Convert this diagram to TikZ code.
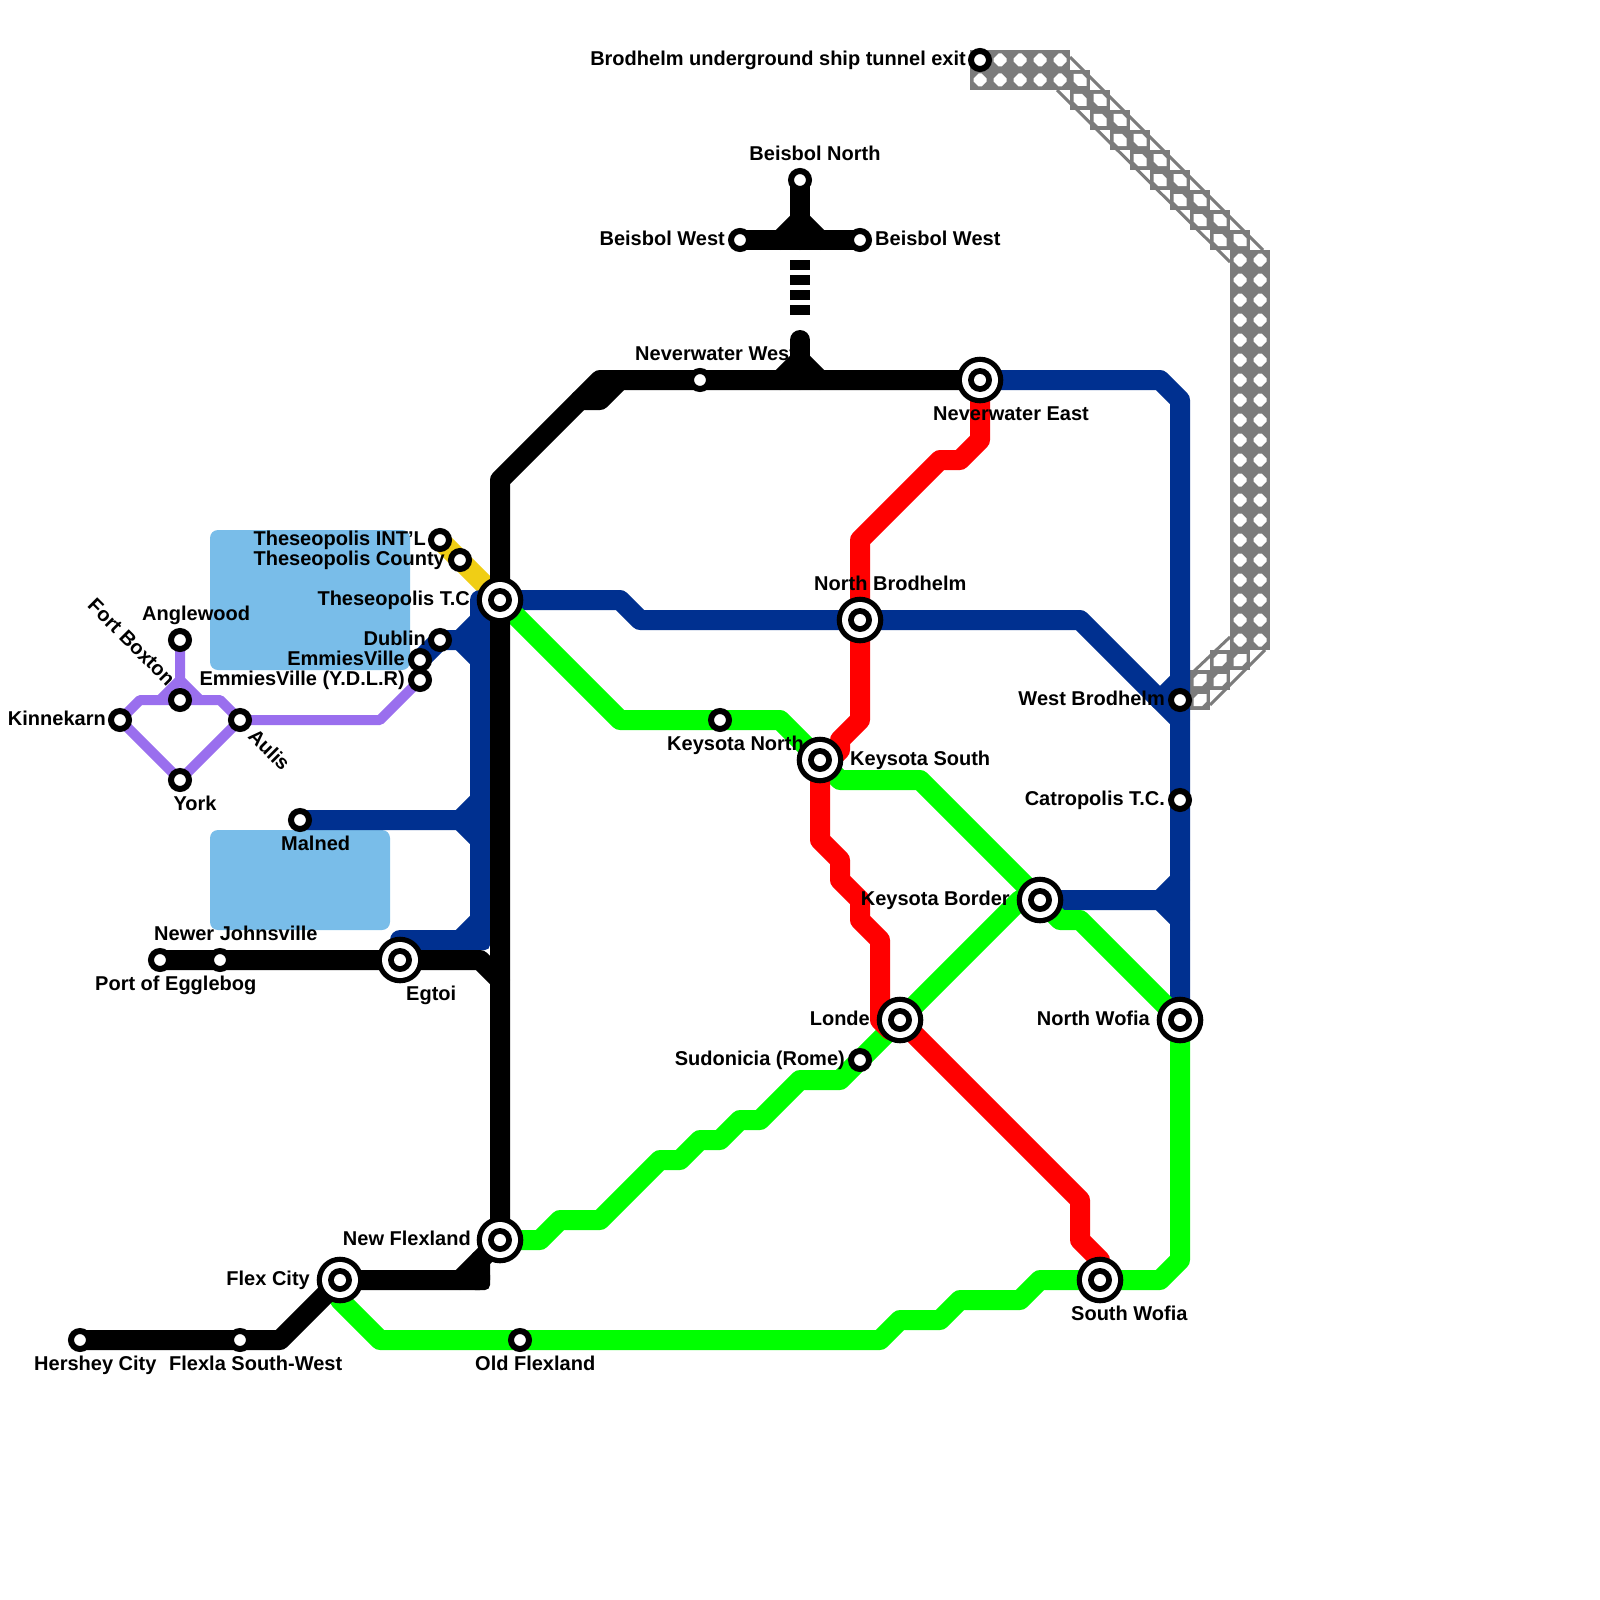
\documentclass[tikz,border=0pt]{standalone}
\usepackage{fontspec}
\setmainfont{Liberation Sans}
\usetikzlibrary{backgrounds}
\definecolor{mblue}{HTML}{003090}
\definecolor{mgreen}{HTML}{00FF00}
\definecolor{mred}{HTML}{FF0000}
\definecolor{myellow}{HTML}{F0CE15}
\definecolor{mpurple}{HTML}{9A6FEE}
\definecolor{mlake}{HTML}{79BDE9}
\definecolor{mgray}{HTML}{7C7C7C}
\tikzset{
  stn/.style={circle,draw=black,fill=white,line width=6pt,minimum size=18pt,inner sep=0pt},
  hub/.style={circle,fill=black,minimum size=46.6pt,inner sep=0pt,path picture={
     \fill[white] (path picture bounding box.center) circle (18pt);
     \fill[black] (path picture bounding box.center) circle (12pt);
     \fill[white] (path picture bounding box.center) circle (6pt);}},
  lbl/.style={inner sep=0pt,text height=14.4pt,text depth=0pt,font=\fontsize{20}{24}\selectfont\bfseries},
  track/.style={line width=20pt,line cap=round,line join=round},
  lake/.style={fill=mlake,rounded corners=8pt},
  tunnelrim/.style={draw=mgray,line width=3pt},
  octhole/.pic={\fill[white] (-6.5,-1.5)--(-1.5,-6.5)--(1.5,-6.5)--(6.5,-1.5)--(6.5,1.5)--(1.5,6.5)--(-1.5,6.5)--(-6.5,1.5)--cycle;},
  downhole/.pic={\fill[white] (-6.5,-6)--(2,-6)--(6.5,-1.5)--(6.5,6)--(-2,6)--(-6.5,1.5)--cycle;},
  uphole/.pic={\fill[white] (-2,-6)--(6.5,-6)--(6.5,1.5)--(2,6)--(-6.5,6)--(-6.5,-1.5)--cycle;},
}
\begin{document}
\begin{tikzpicture}[x=1pt,y=-1pt]
\useasboundingbox (0,0) rectangle (1600,1600);
% stations
\node[stn] (hershey) at (80,1340) {};
\node[stn] (flexsw) at (240,1340) {};
\node[hub] (flexcity) at (340,1280) {};
\node[hub] (newflex) at (500,1240) {};
\node[stn] (oldflex) at (520,1340) {};
\node[stn] (port) at (160,960) {};
\node[stn] (newerj) at (220,960) {};
\node[hub] (egtoi) at (400,960) {};
\node[stn] (malned) at (300,820) {};
\node[hub] (thes) at (500,600) {};
\node[stn] (intl) at (440,540) {};
\node[stn] (county) at (460,560) {};
\node[stn] (dublin) at (440,640) {};
\node[stn] (emmies) at (420,660) {};
\node[stn] (ydlr) at (420,680) {};
\node[stn] (aulis) at (240,720) {};
\node[stn] (york) at (180,780) {};
\node[stn] (kinne) at (120,720) {};
\node[stn] (fort) at (180,700) {};
\node[stn] (angle) at (180,640) {};
\node[stn] (nwest) at (700,380) {};
\node[hub] (neast) at (980,380) {};
\node[stn] (bnorth) at (800,180) {};
\node[stn] (bwl) at (740,240) {};
\node[stn] (bwr) at (860,240) {};
\node[hub] (nbrod) at (860,620) {};
\node[stn] (knorth) at (720,720) {};
\node[hub] (ksouth) at (820,760) {};
\node[hub] (kborder) at (1040,900) {};
\node[hub] (londe) at (900,1020) {};
\node[stn] (sudon) at (860,1060) {};
\node[hub] (nwofia) at (1180,1020) {};
\node[hub] (swofia) at (1100,1280) {};
\node[stn] (wbrod) at (1180,700) {};
\node[stn] (catro) at (1180,800) {};
\node[stn] (tunnel) at (980,60) {};
\coordinate (tunnelend) at (800,340);
\begin{scope}[on background layer]
% lakes
\fill[lake] (210,530) rectangle (410,670);
\fill[lake] (210,830) rectangle (390,930);
% ship tunnel
\draw[tunnelrim] (1070,57) -- (1263,250);
\draw[tunnelrim] (1057,90) -- (1230,262);
\draw[tunnelrim] (1230,637) -- (1192,673);
\draw[tunnelrim] (1265,650) -- (1210,705);
\fill[mgray] (970,50) rectangle (1070,90);
\fill[mgray] (1070,70) rectangle (1090,90);
\foreach \r in {100,120,...,240} {
  \fill[mgray] ({\r+970},{\r-10}) rectangle ({\r+1010},{\r+10});
  \pic at ({\r+980},\r) {downhole};
  \pic at ({\r+1000},\r) {downhole};
}
\pic at (1080,80) {downhole};
\fill[mgray] (1230,250) rectangle (1270,650);
\foreach \r in {260,280,...,640} {
  \pic at (1240,\r) {octhole};
  \pic at (1260,\r) {octhole};
}
\foreach \x in {1000,1020,1040,1060} { \pic at (\x,60) {octhole}; }
\foreach \x in {980,1000,1020,1040,1060} { \pic at (\x,80) {octhole}; }
\fill[mgray] (1210,650) rectangle (1250,670);
\fill[mgray] (1190,670) rectangle (1230,690);
\fill[mgray] (1190,690) rectangle (1210,710);
\pic at (1220,660) {uphole};
\pic at (1240,660) {uphole};
\pic at (1200,680) {uphole};
\pic at (1220,680) {uphole};
\pic at (1200,700) {uphole};
% purple
\draw[track,mpurple,line width=10pt] (kinne.center) -- (140,700) -- (220,700) -- (aulis.center) -- (york.center) -- (kinne.center);
\draw[track,mpurple,line width=10pt] (angle.center) -- (180,680) -- (200,700);
\draw[track,mpurple,line width=10pt] (180,680) -- (160,700);
\draw[track,mpurple,line width=10pt] (aulis.center) -- (380,720) -- (ydlr.center);
% yellow
\draw[track,myellow] (intl.center) -- (thes.center);
% blue
\draw[track,mblue] (neast.center) -- (1160,380) -- (1180,400) -- (nwofia.center);
\draw[track,mblue] (thes.center) -- (620,600) -- (640,620) -- (nbrod.center) -- (1080,620) -- (1180,720);
\draw[track,mblue] (1160,700) -- (1180,680);
\draw[track,mblue] (kborder.center) -- (1160,900) -- (1180,880);
\draw[track,mblue] (1160,900) -- (1180,920);
\draw[track,mblue] (thes.center) -- (480,600) -- (480,940) -- (400,940) -- (egtoi.center);
\fill[mblue,rounded corners=5pt] (470,930) rectangle (490,950);
\draw[track,mblue] (emmies.center) -- (dublin.center) -- (460,640) -- (480,620);
\draw[track,mblue] (460,640) -- (480,660);
\draw[track,mblue] (malned.center) -- (460,820) -- (480,800);
\draw[track,mblue] (460,820) -- (480,840);
\draw[track,mblue] (460,940) -- (480,920);
% green
\draw[track,mgreen] (thes.center) -- (620,720) -- (knorth.center) -- (780,720) -- (ksouth.center) -- (840,780) -- (920,780) -- (kborder.center) -- (1060,920) -- (1080,920) -- (nwofia.center) -- (1180,1260) -- (1160,1280) -- (swofia.center) -- (1040,1280) -- (1020,1300) -- (960,1300) -- (940,1320) -- (900,1320) -- (880,1340) -- (oldflex.center) -- (380,1340) -- (340,1300) -- (flexcity.center);
\draw[track,mgreen] (kborder.center) -- (1020,900) -- (londe.center) -- (sudon.center) -- (840,1080) -- (800,1080) -- (760,1120) -- (740,1120) -- (720,1140) -- (700,1140) -- (680,1160) -- (660,1160) -- (600,1220) -- (560,1220) -- (540,1240) -- (newflex.center);
% red
\draw[track,mred] (neast.center) -- (980,440) -- (960,460) -- (940,460) -- (860,540) -- (860,720) -- (840,740) -- (840,750) -- (820,770) -- (820,840) -- (840,860) -- (840,880) -- (860,900) -- (860,920) -- (880,940) -- (880,1020) -- (890,1030);
\draw[track,mred] (londe.center) -- (1080,1200) -- (1080,1240) -- (1100,1260) -- (swofia.center);
\draw[track,mred] (ksouth.center) -- (820,770);
% black
\draw[track,black] (hershey.center) -- (280,1340) -- (flexcity.center) -- (480,1280) -- (480,1260);
\fill[black,rounded corners=5pt] (470,1270) rectangle (490,1290);
\draw[track,black] (460,1280) -- (newflex.center);
\draw[track,black] (newflex.center) -- (500,480) -- (600,380) -- (neast.center);
\draw[track,black] (580,400) -- (600,400) -- (620,380);
\draw[track,black] (port.center) -- (480,960) -- (500,980);
\draw[track,black] (tunnelend) -- (800,380);
\draw[track,black] (780,380) -- (800,360) -- (820,380);
\draw[track,black] (bnorth.center) -- (800,240);
\draw[track,black] (bwl.center) -- (bwr.center);
\draw[track,black] (780,240) -- (800,220) -- (820,240);
\draw[black,line width=20pt,dash pattern=on 10pt off 5pt] (800,260) -- (800,315);
\end{scope}
% labels
\node[lbl,anchor=east] (l1) at (966,58) {Brodhelm underground ship tunnel exit};
\node[lbl,anchor=east] (l2) at (725,238) {Beisbol West};
\node[lbl,anchor=west] (l3) at (875,238) {Beisbol West};
\node[lbl] (l4) at (815,153) {Beisbol North};
\node[lbl,anchor=west] (l5) at (635,353) {Neverwater West};
\node[lbl,anchor=west] (l6) at (933,413) {Neverwater East};
\node[lbl,anchor=east] (l7) at (426,538) {Theseopolis INT'L};
\node[lbl,anchor=east] (l8) at (445,558) {Theseopolis County};
\node[lbl,anchor=east] (l9) at (470,598) {Theseopolis T.C};
\node[lbl,anchor=west] (l10) at (814,583) {North Brodhelm};
\node[lbl,anchor=west] (l11) at (142,613) {Anglewood};
\node[lbl,anchor=east] (l12) at (426,638) {Dublin};
\node[lbl,anchor=east] (l13) at (405,658) {EmmiesVille};
\node[lbl,anchor=east] (l14) at (405,678) {EmmiesVille (Y.D.L.R)};
\node[lbl,anchor=east] (l15) at (106,718) {Kinnekarn};
\node[lbl,anchor=east,rotate=-45] (l16) at (172,682) {Fort Boxton};
\node[lbl,anchor=west,rotate=-45] (l17) at (252,732) {Aulis};
\node[lbl] (l18) at (195,803) {York};
\node[lbl,anchor=west] (l19) at (667,743) {Keysota North};
\node[lbl,anchor=west] (l20) at (850,758) {Keysota South};
\node[lbl,anchor=west] (l21) at (281,843) {Malned};
\node[lbl,anchor=east] (l22) at (1165,698) {West Brodhelm};
\node[lbl,anchor=east] (l23) at (1165,798) {Catropolis T.C.};
\node[lbl,anchor=east] (l24) at (1010,898) {Keysota Border};
\node[lbl,anchor=west] (l25) at (154,933) {Newer Johnsville};
\node[lbl,anchor=west] (l26) at (95,983) {Port of Egglebog};
\node[lbl,anchor=west] (l27) at (406,993) {Egtoi};
\node[lbl,anchor=east] (l28) at (870,1018) {Londe};
\node[lbl,anchor=east] (l29) at (1150,1018) {North Wofia};
\node[lbl,anchor=east] (l30) at (845,1058) {Sudonicia (Rome)};
\node[lbl,anchor=east] (l31) at (471,1238) {New Flexland};
\node[lbl,anchor=east] (l32) at (310,1278) {Flex City};
\node[lbl,anchor=west] (l33) at (34,1363) {Hershey City};
\node[lbl,anchor=west] (l34) at (169,1363) {Flexla South-West};
\node[lbl,anchor=west] (l35) at (475,1363) {Old Flexland};
\node[lbl,anchor=west] (l36) at (1071,1313) {South Wofia};
\end{tikzpicture}
\end{document}
